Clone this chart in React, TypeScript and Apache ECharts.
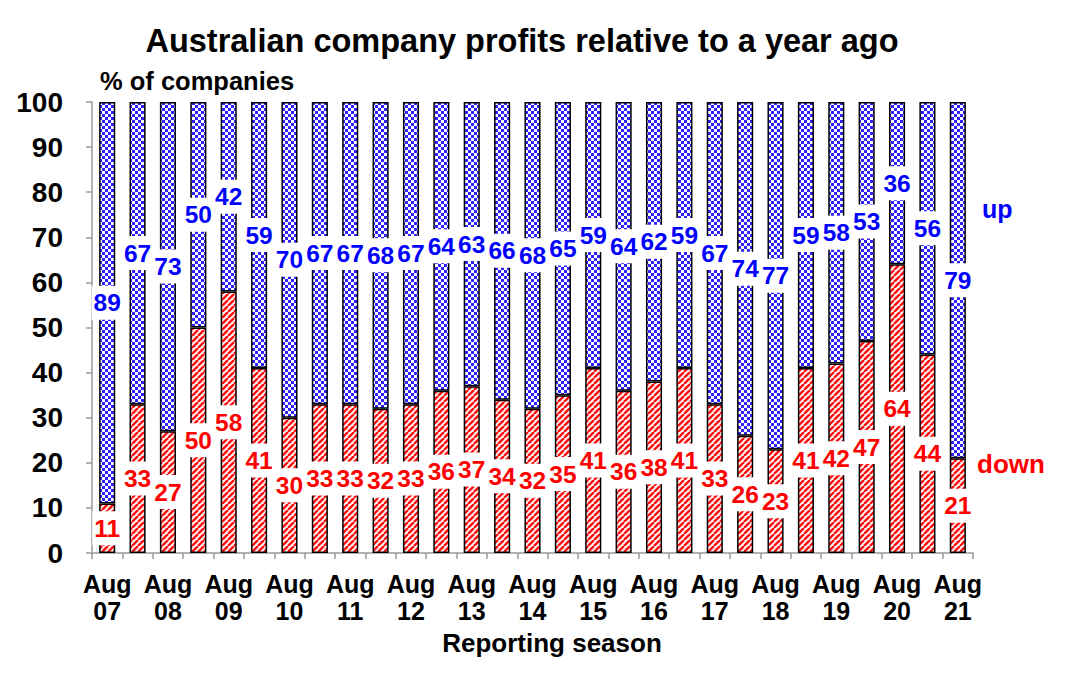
import React, { useEffect, useRef } from "react";
import * as echarts from "echarts";

const categories = [
  "Aug\n07", "Feb\n08", "Aug\n08", "Feb\n09", "Aug\n09", "Feb\n10", "Aug\n10", "Feb\n11",
  "Aug\n11", "Feb\n12", "Aug\n12", "Feb\n13", "Aug\n13", "Feb\n14", "Aug\n14", "Feb\n15",
  "Aug\n15", "Feb\n16", "Aug\n16", "Feb\n17", "Aug\n17", "Feb\n18", "Aug\n18", "Feb\n19",
  "Aug\n19", "Feb\n20", "Aug\n20", "Feb\n21", "Aug\n21",
];

const downValues = [
  11, 33, 27, 50, 58, 41, 30, 33, 33, 32, 33, 36, 37, 34, 32, 35, 41, 36, 38, 41, 33, 26, 23,
  41, 42, 47, 64, 44, 21,
];

const upValues = [
  89, 67, 73, 50, 42, 59, 70, 67, 67, 68, 67, 64, 63, 66, 68, 65, 59, 64, 62, 59, 67, 74, 77,
  59, 58, 53, 36, 56, 79,
];

const FONT = "'Liberation Sans', Arial, Helvetica, sans-serif";

function makeChecker(): HTMLCanvasElement {
  const c = document.createElement("canvas");
  c.width = 6;
  c.height = 6;
  const ctx = c.getContext("2d")!;
  ctx.fillStyle = "#ffffff";
  ctx.fillRect(0, 0, 6, 6);
  ctx.fillStyle = "#2f22ff";
  ctx.fillRect(0, 0, 3, 3);
  ctx.fillRect(3, 3, 3, 3);
  return c;
}

function makeStripes(): HTMLCanvasElement {
  const s = 6;
  const c = document.createElement("canvas");
  c.width = s;
  c.height = s;
  const ctx = c.getContext("2d")!;
  ctx.fillStyle = "#ffffff";
  ctx.fillRect(0, 0, s, s);
  ctx.strokeStyle = "#ff1010";
  ctx.lineWidth = 2.5;
  for (const o of [-s, 0, s]) {
    ctx.beginPath();
    ctx.moveTo(o, s);
    ctx.lineTo(o + s, 0);
    ctx.stroke();
  }
  return c;
}

export default function App() {
  const ref = useRef<HTMLDivElement>(null);

  useEffect(() => {
    document.body.style.margin = "0";
    if (!ref.current) return;
    const chart = echarts.init(ref.current, undefined, { renderer: "svg" });
    const checker = makeChecker();
    const stripes = makeStripes();

    const labelBase = {
      show: true,
      position: "inside" as const,
      fontSize: 24.5,
      lineHeight: 26,
      fontWeight: "bold" as const,
      fontFamily: FONT,
      backgroundColor: "#ffffff",
      padding: [4, 2],
    };

    chart.setOption({
      animation: false,
      backgroundColor: "#ffffff",
      grid: { left: 92, right: 96, top: 102, bottom: 124, containLabel: false },
      xAxis: {
        type: "category",
        data: categories,
        axisLine: { show: true, lineStyle: { color: "#9a9a9a", width: 1.5 } },
        axisTick: { show: true, interval: 0, length: 6, lineStyle: { color: "#9a9a9a", width: 1.5 } },
        axisLabel: {
          interval: 1,
          margin: 17,
          fontSize: 25,
          lineHeight: 27,
          fontWeight: "bold",
          fontFamily: FONT,
          color: "#000",
        },
        splitLine: { show: false },
      },
      yAxis: {
        type: "value",
        min: 0,
        max: 100,
        interval: 10,
        axisLine: { show: true, lineStyle: { color: "#9a9a9a", width: 1.5 } },
        axisTick: { show: true, length: 6, lineStyle: { color: "#9a9a9a", width: 1.5 } },
        axisLabel: {
          margin: 29,
          fontSize: 28,
          fontWeight: "bold",
          fontFamily: FONT,
          color: "#000",
        },
        splitLine: { show: false },
      },
      series: [
        {
          name: "down",
          type: "bar",
          stack: "total",
          data: downValues,
          barWidth: "53%",
          itemStyle: {
            color: { image: stripes, repeat: "repeat" },
            borderColor: "#000",
            borderWidth: 1.5,
          },
          label: { ...labelBase, color: "#ff0000" },
        },
        {
          name: "up",
          type: "bar",
          stack: "total",
          data: upValues,
          barWidth: "53%",
          itemStyle: {
            color: { image: checker, repeat: "repeat" },
            borderColor: "#000",
            borderWidth: 1.5,
          },
          label: { ...labelBase, color: "#0000ff" },
        },
      ],
      graphic: [
        {
          type: "text",
          x: 522,
          y: 41,
          style: {
            text: "Australian company profits relative to a year ago",
            fontSize: 32.5,
            fontWeight: "bold",
            fontFamily: FONT,
            fill: "#000",
            align: "center",
            verticalAlign: "middle",
          },
        },
        {
          type: "text",
          x: 100,
          y: 81,
          style: {
            text: "% of companies",
            fontSize: 25.5,
            fontWeight: "bold",
            fontFamily: FONT,
            fill: "#000",
            verticalAlign: "middle",
          },
        },
        {
          type: "text",
          x: 552,
          y: 643,
          style: {
            text: "Reporting season",
            fontSize: 26,
            fontWeight: "bold",
            fontFamily: FONT,
            fill: "#000",
            align: "center",
            verticalAlign: "middle",
          },
        },
        {
          type: "text",
          x: 982,
          y: 209,
          style: { text: "up", fontSize: 25, fontWeight: "bold", fontFamily: FONT, fill: "#0000ff", verticalAlign: "middle" },
        },
        {
          type: "text",
          x: 977,
          y: 464,
          style: { text: "down", fontSize: 26, fontWeight: "bold", fontFamily: FONT, fill: "#ff0000", verticalAlign: "middle" },
        },
      ],
    });

    return () => chart.dispose();
  }, []);

  return <div ref={ref} style={{ width: 1069, height: 677 }} />;
}
